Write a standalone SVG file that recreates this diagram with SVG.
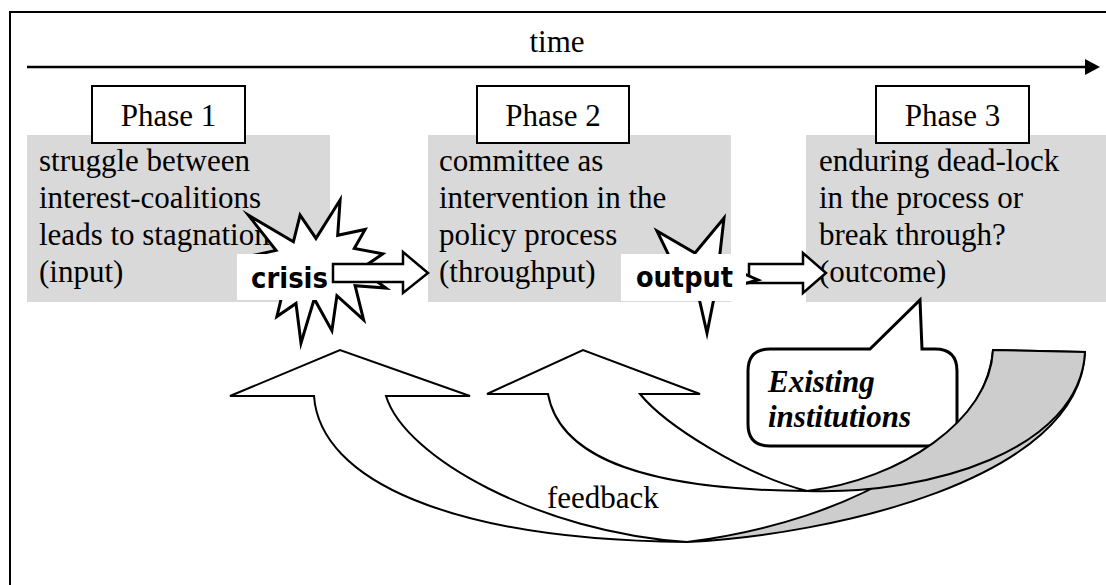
<svg xmlns="http://www.w3.org/2000/svg" width="1106" height="585" viewBox="0 0 1106 585">
<defs>
<style>
.serif{font-family:"Liberation Serif","Times New Roman",serif;font-size:31px;fill:#000}
.bi{font-weight:bold;font-style:italic}
.sans{font-family:"DejaVu Sans","Liberation Sans",sans-serif;font-weight:bold;font-size:28px;fill:#000}
.gray{fill:#d9d9d9}
.box{fill:#fff;stroke:#000;stroke-width:2}
.star{fill:#fff;stroke:#000;stroke-width:3;stroke-linejoin:miter;stroke-miterlimit:20}
.blk{fill:#fff;stroke:#000;stroke-width:2.5}
.lbl{fill:#fff}
.fb{fill:#fff;stroke:#000;stroke-width:2}
.fbback{fill:#cdcdcd;stroke:#000;stroke-width:2}
.callout{fill:#fff;stroke:#000;stroke-width:3}
</style>
<marker id="ah" markerUnits="userSpaceOnUse" markerWidth="15" markerHeight="16" refX="0" refY="8" orient="auto" viewBox="0 0 15 16">
<path d="M0,0 L15,8 L0,16 Z" fill="#000"/>
</marker>
</defs>
<rect x="0" y="0" width="1106" height="585" fill="#fff"/>
<rect id="frame" x="10" y="12" width="1110" height="590" fill="none" stroke="#000" stroke-width="2"/>

<g id="time-axis">
<text class="serif" x="557" y="52" text-anchor="middle">time</text>
<line x1="27" y1="67" x2="1085" y2="67" stroke="#000" stroke-width="2.5" marker-end="url(#ah)"/>
</g>

<g id="phase1">
<rect class="gray" x="27" y="135" width="303" height="167"/>
<rect class="box" x="92" y="86" width="153" height="57"/>
<text class="serif" x="168.5" y="126" text-anchor="middle">Phase 1</text>
<text class="serif" x="39" y="171">struggle between</text>
<text class="serif" x="39" y="208">interest-coalitions</text>
<text class="serif" x="39" y="245">leads to stagnation</text>
<text class="serif" x="39" y="282">(input)</text>
</g>

<g id="phase2">
<rect class="gray" x="428" y="135" width="303" height="167"/>
<rect class="box" x="477" y="86" width="152" height="57"/>
<text class="serif" x="553" y="126" text-anchor="middle">Phase 2</text>
<text class="serif" x="439" y="171">committee as</text>
<text class="serif" x="439" y="208">intervention in the</text>
<text class="serif" x="439" y="245">policy process</text>
<text class="serif" x="439" y="282">(throughput)</text>
</g>

<g id="phase3">
<rect class="gray" x="806" y="135" width="302" height="167"/>
<rect class="box" x="876" y="86" width="153" height="57"/>
<text class="serif" x="952.5" y="126" text-anchor="middle">Phase 3</text>
<text class="serif" x="819" y="171">enduring dead-lock</text>
<text class="serif" x="819" y="208">in the process or</text>
<text class="serif" x="819" y="245">break through?</text>
<text class="serif" x="819" y="282">(outcome)</text>
</g>

<g id="crisis">
<polygon class="star" points="316,238.4 340.1,200 337.7,235.3 365.1,229.5 354.3,248.4 382.7,253.9 360.1,269.4 386,288 355.1,285.7 363.6,319.8 336.9,295.7 331.9,330.7 314.3,298.9 301,343 296,303.5 276.9,316.6 282.7,292.3 246.9,296.6 270.1,278 246,257 276,250.4 248.4,215.2 293.4,241.8 300.1,215.2"/>
<rect class="lbl" x="237" y="254" width="97" height="46"/>
<text class="sans" x="251" y="288" textLength="77" lengthAdjust="spacingAndGlyphs">crisis</text>
<polygon class="blk" points="333,264 403,264 403,252 428,273 403,293 403,282 333,282"/>
</g>

<g id="output">
<polygon class="blk" points="749,264 803,264 803,253 826,273 803,293 803,283 749,283"/>
<polygon class="star" points="672,262 657,231 695,253 724,218 719,262 740,272 758,280 740,285 714,298 707,333 699,298 650,290"/>
<rect class="lbl" x="621" y="254" width="125" height="47"/>
<text class="sans" x="636" y="287" textLength="97" lengthAdjust="spacingAndGlyphs">output</text>
</g>

<g id="existing-institutions">
<path class="callout" d="M770,349 L870,349 L920,300 L922,349 L935,349 Q957,349 957,371 L957,424 Q957,446 935,446 L770,446 Q748,446 748,424 L748,371 Q748,349 770,349 Z"/>
<text class="serif bi" x="768" y="392">Existing</text>
<text class="serif bi" x="768" y="427">institutions</text>
</g>

<g id="connectors">
<g id="feedback-arrow-1">
<path class="fbback" d="M687,542 C830,535 1080,480 1085,352 L993,350 C985,440 860,520 687,542 Z"/>
<path class="fb" d="M230,396 L340,350 L470,396 L386,396 C405,458 540,532 687,542 C450,540 320,480 314,396 Z"/>
</g>
<g id="feedback-arrow-2">
<path class="fbback" d="M807,491 C900,480 990,420 993,350 L1085,352 C1080,450 930,495 807,491 Z"/>
<path class="fb" d="M487,394 L583,350 L700,394 L640,394 C665,425 745,475 807,491 C650,490 560,460 548,394 Z"/>
</g>
<text class="serif" x="547" y="508">feedback</text>
</g>
</svg>
